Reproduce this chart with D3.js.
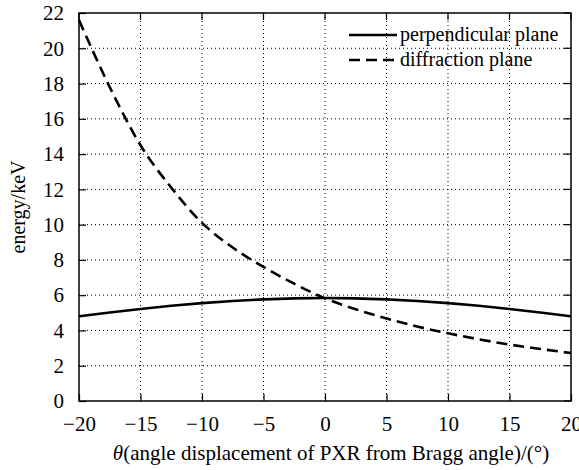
<!DOCTYPE html>
<html>
<head>
<meta charset="utf-8">
<script src="https://cdn.jsdelivr.net/npm/d3@7"></script>
<style>
  body { margin: 0; background: #fff; }
  text { font-family: "Liberation Serif", "Times New Roman", serif; fill: #000; }
</style>
</head>
<body>
<svg id="chart" width="579" height="470"></svg>
<script>
// angle displacement (deg)
const theta = [-20, -17.5, -15, -12.5, -10, -7.5, -5, -2.5, 0, 2.5, 5, 7.5, 10, 12.5, 15, 17.5, 20];
// energy (keV)
const perpendicular = [4.8, 5.02, 5.22, 5.4, 5.55, 5.67, 5.76, 5.82, 5.84, 5.82, 5.76, 5.67, 5.55, 5.4, 5.22, 5.02, 4.8];
const diffraction = [21.6, 17.8, 14.5, 12.1, 10.1, 8.7, 7.6, 6.65, 5.82, 5.2, 4.68, 4.22, 3.84, 3.5, 3.2, 2.95, 2.72];
const xTicks = [-20, -15, -10, -5, 0, 5, 10, 15, 20];
const yTicks = [0, 2, 4, 6, 8, 10, 12, 14, 16, 18, 20, 22];

let svg = d3.select("#chart");
let mLeft = 79, mRight = 571, mTop = 13, mBottom = 401;
let serif = "'Liberation Serif', 'Times New Roman', serif";

let x = d3.scaleLinear().domain([-20, 20]).range([mLeft, mRight]);
let y = d3.scaleLinear().domain([0, 22]).range([mBottom, mTop]);

let fmt = d => d < 0 ? "\u2212" + Math.abs(d) : String(d);

// grid
svg.append("g").selectAll("line").data(xTicks.slice(1, -1)).enter().append("line")
  .attr("x1", d => x(d)).attr("x2", d => x(d)).attr("y1", mTop).attr("y2", mBottom)
  .attr("stroke", "#000").attr("stroke-width", 1).attr("stroke-dasharray", "1,3");
svg.append("g").selectAll("line").data(yTicks.slice(1, -1)).enter().append("line")
  .attr("y1", d => y(d)).attr("y2", d => y(d)).attr("x1", mLeft).attr("x2", mRight)
  .attr("stroke", "#000").attr("stroke-width", 1).attr("stroke-dasharray", "1,3");

// axes with inward ticks
let xAxis = d3.axisBottom(x).tickValues(xTicks).tickSize(-7).tickPadding(15).tickFormat(fmt);
let yAxis = d3.axisLeft(y).tickValues(yTicks).tickSize(-7).tickPadding(15).tickFormat(fmt);

let gx = svg.append("g").attr("transform", `translate(0,${mBottom})`).call(xAxis);
let gy = svg.append("g").attr("transform", `translate(${mLeft},0)`).call(yAxis);
[gx, gy].forEach(g => {
  g.attr("font-family", serif).attr("font-size", 21);
  g.select(".domain").remove();
  g.selectAll("line").attr("stroke", "#000").attr("stroke-width", 1.2);
  g.selectAll("text").attr("fill", "#000");
});
// top and right ticks
svg.append("g").selectAll("line").data(xTicks).enter().append("line")
  .attr("x1", d => x(d)).attr("x2", d => x(d)).attr("y1", mTop).attr("y2", mTop + 7)
  .attr("stroke", "#000").attr("stroke-width", 1.2);
svg.append("g").selectAll("line").data(yTicks).enter().append("line")
  .attr("y1", d => y(d)).attr("y2", d => y(d)).attr("x1", mRight).attr("x2", mRight - 7)
  .attr("stroke", "#000").attr("stroke-width", 1.2);

// frame
svg.append("rect").attr("x", mLeft).attr("y", mTop).attr("width", mRight - mLeft).attr("height", mBottom - mTop)
  .attr("fill", "none").attr("stroke", "#000").attr("stroke-width", 1.5);

// curves
let line = d3.line().x((d, i) => x(theta[i])).y(d => y(d)).curve(d3.curveMonotoneX);
svg.append("path").datum(perpendicular).attr("d", line)
  .attr("fill", "none").attr("stroke", "#000").attr("stroke-width", 2.6);
svg.append("path").datum(diffraction).attr("d", line)
  .attr("fill", "none").attr("stroke", "#000").attr("stroke-width", 2.6).attr("stroke-dasharray", "11,6");

// legend
let legend = [["perpendicular plane", null], ["diffraction plane", "11,6"]];
legend.forEach((l, i) => {
  let ly = 35 + i * 25;
  svg.append("line").attr("x1", 349).attr("x2", 397).attr("y1", ly).attr("y2", ly)
    .attr("stroke", "#000").attr("stroke-width", 2.6).attr("stroke-dasharray", l[1]);
  svg.append("text").attr("x", 400).attr("y", ly + 6).style("font-size", "20px").text(l[0]);
});

// axis labels
svg.append("text").attr("transform", `translate(25,${(mTop + mBottom) / 2}) rotate(-90)`)
  .attr("text-anchor", "middle").style("font-size", "20px").text("energy/keV");
let xl = svg.append("text").attr("x", (mLeft + mRight) / 2 + 6).attr("y", 460)
  .attr("text-anchor", "middle").style("font-size", "21px");
xl.append("tspan").style("font-style", "italic").text("\u03b8");
xl.append("tspan").text("(angle displacement of PXR from Bragg angle)/(\u00b0)");
</script>
</body>
</html>
